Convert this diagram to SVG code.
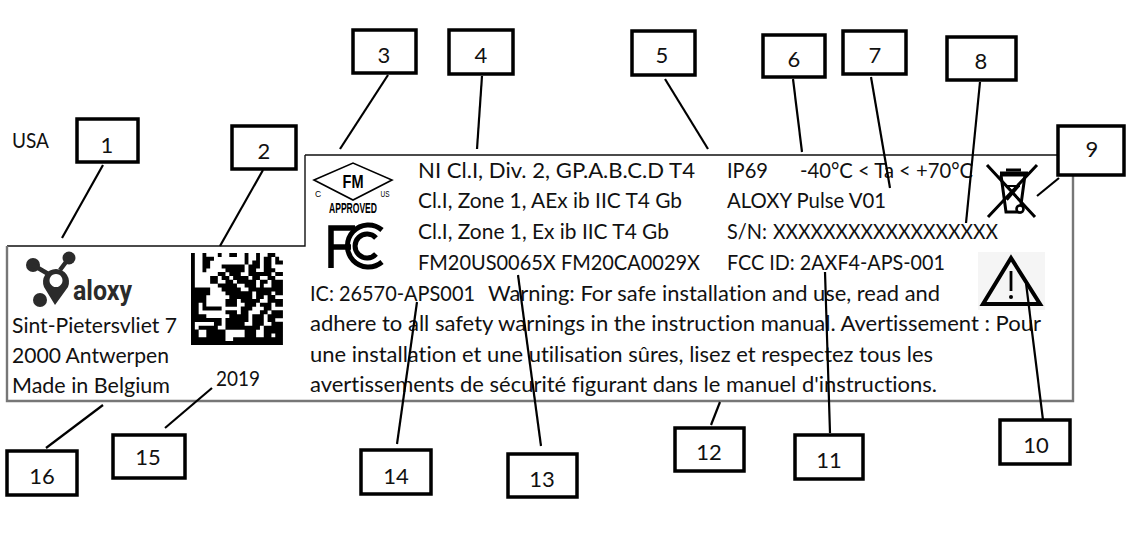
<svg xmlns="http://www.w3.org/2000/svg" width="1137" height="549" viewBox="0 0 1137 549">
<style>
text{font-family:Lato,"Open Sans","Liberation Sans",sans-serif;fill:#111;font-variant-ligatures:none}
.t{font-size:21px}
.n{font-size:22px;text-anchor:middle}
.box{fill:#fff;stroke:#000;stroke-width:3.5}
.c{stroke:#000;stroke-width:2.2;fill:none}
.fm{font-family:"Liberation Sans",sans-serif;text-anchor:middle;fill:#000}
</style>
<rect width="1137" height="549" fill="#fff"/>
<g id="label">
<path d="M305 155H1072M305 155V246H7" fill="none" stroke="#111" stroke-width="1.4"/>
<path d="M7 246V401H1073V155" fill="none" stroke="#777" stroke-width="2.4"/>
<text class="t" x="12" y="148" textLength="37" lengthAdjust="spacingAndGlyphs">USA</text>
<text class="t" x="12" y="333" textLength="165" lengthAdjust="spacingAndGlyphs">Sint-Pietersvliet 7</text>
<text class="t" x="12" y="363" textLength="157" lengthAdjust="spacingAndGlyphs">2000 Antwerpen</text>
<text class="t" x="12" y="393" textLength="158" lengthAdjust="spacingAndGlyphs">Made in Belgium</text>
<text class="t" x="216" y="386" textLength="44" lengthAdjust="spacingAndGlyphs">2019</text>
<text class="t" x="418" y="178" textLength="277" lengthAdjust="spacingAndGlyphs">NI Cl.I, Div. 2, GP.A.B.C.D T4</text>
<text class="t" x="418" y="208" textLength="264" lengthAdjust="spacingAndGlyphs">Cl.I, Zone 1, AEx ib IIC T4 Gb</text>
<text class="t" x="418" y="239" textLength="251" lengthAdjust="spacingAndGlyphs">Cl.I, Zone 1, Ex ib IIC T4 Gb</text>
<text class="t" x="418" y="270" textLength="282" lengthAdjust="spacingAndGlyphs">FM20US0065X FM20CA0029X</text>
<text class="t" x="727" y="178" textLength="41" lengthAdjust="spacingAndGlyphs">IP69</text>
<text class="t" x="800" y="178" textLength="173" lengthAdjust="spacingAndGlyphs">-40°C &lt; Ta &lt; +70°C</text>
<text class="t" x="727" y="208" textLength="159" lengthAdjust="spacingAndGlyphs">ALOXY Pulse V01</text>
<text class="t" x="727" y="239" textLength="40" lengthAdjust="spacingAndGlyphs">S/N:</text>
<text class="t" x="773" y="239" textLength="225" lengthAdjust="spacingAndGlyphs">XXXXXXXXXXXXXXXXXX</text>
<text class="t" x="727" y="270" textLength="218" lengthAdjust="spacingAndGlyphs">FCC ID: 2AXF4-APS-001</text>
<text class="t" x="310" y="301" textLength="165" lengthAdjust="spacingAndGlyphs">IC: 26570-APS001</text>
<text class="t" x="488" y="301" textLength="452" lengthAdjust="spacingAndGlyphs">Warning: For safe installation and use, read and</text>
<text class="t" x="310" y="331" textLength="731" lengthAdjust="spacingAndGlyphs">adhere to all safety warnings in the instruction manual. Avertissement : Pour</text>
<text class="t" x="310" y="362" textLength="623" lengthAdjust="spacingAndGlyphs">une installation et une utilisation sûres, lisez et respectez tous les</text>
<text class="t" x="310" y="392" textLength="627" lengthAdjust="spacingAndGlyphs">avertissements de sécurité figurant dans le manuel d'instructions.</text>
</g>
<g id="logo-aloxy" fill="#2b2b2b">
<circle cx="33" cy="265" r="7"/><circle cx="69" cy="258" r="6.5"/><circle cx="40" cy="300" r="7"/>
<path d="M33 265L50 275M69 258L60 270" stroke="#2b2b2b" stroke-width="4.5" fill="none"/>
<path fill-rule="evenodd" d="M55 305L44 287A13 13 0 1 1 68 287ZM56 274a6.5 6.5 0 1 0 .01 0Z"/>
<text x="73" y="300" font-size="27" font-weight="700" textLength="59" lengthAdjust="spacingAndGlyphs" style="font-family:Roboto,sans-serif;fill:#2b2b2b">aloxy</text>
</g>
<g id="datamatrix"><path transform="translate(191 253) scale(3.83)" fill="none" stroke="#000" stroke-width="1.04" d="M0 .5h1M3 .5h1M7 .5h1M10 .5h2M14 .5h1M17 .5h1M20 .5h2
M0 1.5h1M3 1.5h3M14 1.5h1M17 1.5h1M19 1.5h2M22 1.5h1
M0 2.5h1M3 2.5h2M14 2.5h1M16 2.5h2M19 2.5h2M22 2.5h2
M0 3.5h1M3 3.5h2M8 3.5h6M15 3.5h3M19 3.5h2
M0 4.5h1M3 4.5h1M9 4.5h5M15 4.5h2M19 4.5h3
M0 5.5h1M7 5.5h2M10 5.5h3M15 5.5h6M22 5.5h2
M0 6.5h1M5 6.5h2M8 6.5h2M11 6.5h4M16 6.5h2M20 6.5h2
M0 7.5h1M5 7.5h2M9 7.5h2M12 7.5h5M18 7.5h2M21 7.5h3
M0 8.5h1M7 8.5h5M14 8.5h3M18 8.5h1M21 8.5h3
M0 9.5h5M8 9.5h5M15 9.5h9
M0 10.5h5M9 10.5h7M17 10.5h4M22 10.5h2
M0 11.5h4M10 11.5h6M17 11.5h2M20 11.5h2
M0 12.5h4M9 12.5h3M13 12.5h5M20 12.5h4
M0 13.5h2M3 13.5h1M9 13.5h3M14 13.5h3M18 13.5h3M22 13.5h2
M0 14.5h2M3 14.5h5M13 14.5h3M19 14.5h2
M0 15.5h2M9 15.5h3M13 15.5h2M18 15.5h2M21 15.5h3
M0 16.5h4M10 16.5h5M16 16.5h3M20 16.5h4
M0 17.5h8M9 17.5h6M16 17.5h3M20 17.5h2
M0 18.5h1M6 18.5h2M9 18.5h5M16 18.5h3M21 18.5h3
M0 19.5h1M2 19.5h5M9 19.5h9M19 19.5h5
M0 20.5h2M4 20.5h5M14 20.5h3M19 20.5h5
M0 21.5h2M4 21.5h5M14 21.5h3M19 21.5h2M22 21.5h2
M0 22.5h9M11 22.5h13
M0 23.5h24"/></g>
<g id="logo-fm">
<path d="M314 180L353 163L392 180L353 200Z" fill="#fff" stroke="#000" stroke-width="1.6"/>
<text class="fm" x="353" y="188" font-size="18" font-weight="700" textLength="21" lengthAdjust="spacingAndGlyphs">FM</text>
<text class="fm" x="318" y="197" font-size="8.5">C</text>
<text class="fm" x="385" y="197" font-size="8.5" textLength="9" lengthAdjust="spacingAndGlyphs">US</text>
<text class="fm" x="353" y="213" font-size="14" font-weight="700" textLength="48" lengthAdjust="spacingAndGlyphs">APPROVED</text>
</g>
<g id="logo-fcc" fill="none" stroke="#000">
<path d="M331 268V228H355M331 247H351" stroke-width="5.5"/>
<path d="M382 230A21 21 0 1 0 382 262" stroke-width="5"/>
<path d="M376 238A12 12 0 1 0 376 254" stroke-width="5"/>
</g>
<g id="icon-recycle" fill="none" stroke="#000">
<path d="M987 165L1035 217M1037 165L988 217" stroke-width="3"/>
<path d="M1001 175L1006 212H1020L1025 175" stroke-width="3"/>
<path d="M1000 174H1028" stroke-width="5"/><path d="M1006 170H1021" stroke-width="3"/>
<path d="M1006 186H1020M1007 200L1019 186M1007 186L1019 200" stroke-width="2"/>
<circle cx="1020" cy="209" r="3.5" fill="#fff" stroke-width="2.6"/>
</g>
<g id="icon-warning">
<rect x="978" y="252" width="67" height="58" fill="#f5f5f5"/>
<path d="M1011 258L983 304H1040Z" fill="none" stroke="#000" stroke-width="4" stroke-linejoin="miter"/>
<path d="M1011 271V291" stroke="#000" stroke-width="2.8"/><circle cx="1011" cy="297" r="2"/>
</g>
<g id="connectors" class="c">
<path d="M103 165L62 238"/><path d="M263 170L220 246"/><path d="M388 75L340 149"/><path d="M482 76L477 149"/>
<path d="M665 79L708 149"/><path d="M793 79L802 152"/><path d="M871 77L890 188"/><path d="M980 82L966 223"/>
<path d="M1037 196L1059 178"/><path d="M1026 283L1043 420"/><path d="M825 272L830 433"/><path d="M720 402L711 425"/>
<path d="M518 275L541 446"/><path d="M417 302L397 444"/><path d="M212 388L165 428"/><path d="M103 405L46 448"/>
</g>
<g id="n1"><rect class="box" x="77" y="119" width="61" height="43"/><text class="n" x="107" y="153">1</text></g>
<g id="n2"><rect class="box" x="232" y="126" width="64" height="43"/><text class="n" x="264" y="159">2</text></g>
<g id="n3"><rect class="box" x="353" y="30" width="63" height="43"/><text class="n" x="384" y="63">3</text></g>
<g id="n4"><rect class="box" x="449" y="30" width="64" height="44"/><text class="n" x="481" y="63">4</text></g>
<g id="n5"><rect class="box" x="632" y="31" width="63" height="44"/><text class="n" x="662" y="63">5</text></g>
<g id="n6"><rect class="box" x="763" y="35" width="62" height="42"/><text class="n" x="794" y="67">6</text></g>
<g id="n7"><rect class="box" x="843" y="31" width="63" height="43"/><text class="n" x="875" y="63">7</text></g>
<g id="n8"><rect class="box" x="947" y="37" width="69" height="43"/><text class="n" x="981" y="69">8</text></g>
<g id="n9"><rect class="box" x="1058" y="126" width="66" height="49"/><text class="n" x="1092" y="157">9</text></g>
<g id="n10"><rect class="box" x="1000" y="420" width="70" height="44"/><text class="n" x="1036" y="453">10</text></g>
<g id="n11"><rect class="box" x="795" y="435" width="68" height="44"/><text class="n" x="829" y="468">11</text></g>
<g id="n12"><rect class="box" x="675" y="428" width="69" height="43"/><text class="n" x="709" y="460">12</text></g>
<g id="n13"><rect class="box" x="508" y="454" width="69" height="43"/><text class="n" x="542" y="487">13</text></g>
<g id="n14"><rect class="box" x="361" y="450" width="70" height="44"/><text class="n" x="396" y="484">14</text></g>
<g id="n15"><rect class="box" x="113" y="435" width="72" height="43"/><text class="n" x="148" y="465">15</text></g>
<g id="n16"><rect class="box" x="7" y="451" width="70" height="44"/><text class="n" x="42" y="484">16</text></g>
</svg>
